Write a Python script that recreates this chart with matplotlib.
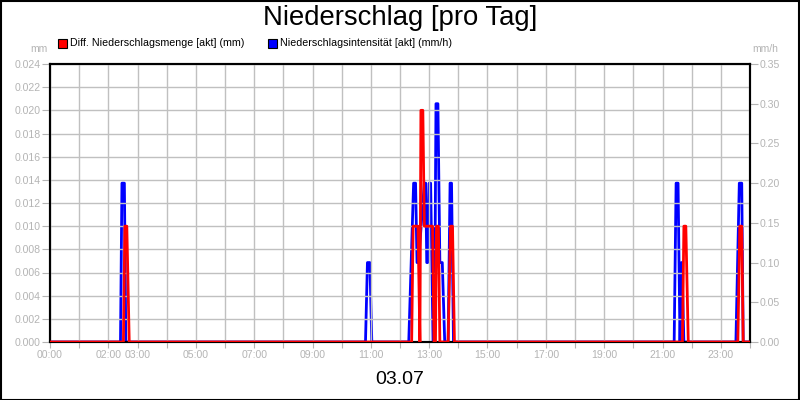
import matplotlib
matplotlib.use("Agg")
import matplotlib.pyplot as plt
from matplotlib.patches import Rectangle

plt.rcParams['font.family'] = ['Liberation Sans', 'DejaVu Sans']

# Niederschlagsintensitaet (mm/h), Stuetzpunkte
blau_zeit = ["00:00", "02:25", "02:28", "02:33", "02:36",
             "10:49", "10:53", "10:58", "11:02",
             "12:18", "12:28", "12:32", "12:35", "12:38", "12:50", "12:53",
             "12:55", "12:57", "13:00", "13:03", "13:08", "13:11", "13:14",
             "13:18", "13:22", "13:27", "13:32", "13:39", "13:43", "13:46", "13:50",
             "21:24", "21:28", "21:32", "21:36", "21:39", "21:40", "21:44",
             "23:31", "23:38", "23:43", "23:46", "24:00"]
blau_wert = [0, 0, 0.20, 0.20, 0,
             0, 0.10, 0.10, 0,
             0, 0.20, 0.20, 0.10, 0.10, 0.20, 0.20,
             0.10, 0.10, 0.20, 0.20, 0, 0, 0.30,
             0.30, 0.10, 0.10, 0, 0, 0.20, 0.20, 0,
             0, 0.20, 0.20, 0, 0.10, 0.10, 0,
             0, 0.20, 0.20, 0, 0]

# Diff. Niederschlagsmenge (mm), Stuetzpunkte
rot_zeit = ["00:00", "02:31", "02:34", "02:38", "02:43",
            "12:24", "12:27", "12:37", "12:41", "12:43", "12:47", "12:50",
            "13:07", "13:10", "13:13", "13:15", "13:19", "13:22",
            "13:39", "13:44", "13:48", "13:52",
            "21:41", "21:44", "21:48", "21:53",
            "23:35", "23:39", "23:43", "23:46", "24:00"]
rot_wert = [0, 0, 0.010, 0.010, 0,
            0, 0.010, 0.010, 0, 0.020, 0.020, 0.010,
            0.010, 0, 0, 0.010, 0.010, 0,
            0, 0.010, 0.010, 0,
            0, 0.010, 0.010, 0,
            0, 0.010, 0.010, 0, 0]

x_labels = ["00:00", "02:00", "03:00", "05:00", "07:00", "09:00", "11:00",
            "13:00", "15:00", "17:00", "19:00", "21:00", "23:00"]


def stunden(t):
    h, m = t.split(":")
    return int(h) + int(m) / 60.0


grau = "#b4b4b4"

fig = plt.figure(figsize=(8, 4), dpi=100)
ax = fig.add_axes([50 / 800, 58 / 400, 700 / 800, 278 / 400])
ax2 = ax.twinx()

ax2.plot([stunden(t) for t in blau_zeit], blau_wert, color="#0000ff", lw=2.0, zorder=2)
ax.plot([stunden(t) for t in rot_zeit], rot_wert, color="#ff0000", lw=2.0, zorder=3)
# rote Linie ueber der blauen
ax.set_zorder(ax2.get_zorder() + 1)
ax.patch.set_visible(False)

ax.set_xlim(0, 24)
ax.set_ylim(0, 0.024)
ax2.set_ylim(0, 0.35)

# stuendliche Ticks, beschriftet nur die Stunden aus x_labels
beschriftet = {int(stunden(t)): t for t in x_labels}
ax.set_xticks(range(0, 25))
ax.set_xticklabels([beschriftet.get(h, "") for h in range(0, 25)])
ax.tick_params(axis="x", length=4, color=grau, pad=2, labelsize=7.6, labelcolor=grau)

ax.set_yticks([i * 0.002 for i in range(13)])
ax.set_yticklabels(["%.3f" % (i * 0.002) for i in range(13)])
ax.tick_params(axis="y", length=6, color=grau, labelsize=7.6, labelcolor=grau, pad=1)
ax2.set_yticks([i * 0.05 for i in range(8)])
ax2.set_yticklabels(["%.2f" % (i * 0.05) for i in range(8)])
ax2.tick_params(axis="y", length=6, color=grau, labelsize=7.6, labelcolor=grau, pad=1)

ax.grid(True, which="major", color="#c0c0c0", lw=1)
for s in ax.spines.values():
    s.set_color("black")
    s.set_linewidth(1.5)
for s in ax2.spines.values():
    s.set_color("black")
    s.set_linewidth(1.5)

fig.text(0.5, 1 - 18 / 400, "Niederschlag [pro Tag]", ha="center", va="center", fontsize=19.8)
fig.text(0.5, 1 - 380 / 400, "03.07", ha="center", va="center", fontsize=14)
fig.text(39 / 800, 1 - 49 / 400, "mm", ha="center", va="center", fontsize=7.5, color=grau)
fig.text(765 / 800, 1 - 49 / 400, "mm/h", ha="center", va="center", fontsize=7.5, color=grau)

# Legende
fig.patches.append(Rectangle((58 / 800, 1 - 48 / 400), 9 / 800, 9 / 400, transform=fig.transFigure,
                             facecolor="#ff0000", edgecolor="black", lw=0.8))
fig.text(70 / 800, 1 - 43.5 / 400, "Diff. Niederschlagsmenge [akt] (mm)", va="center", fontsize=7.7)
fig.patches.append(Rectangle((268 / 800, 1 - 48 / 400), 9 / 800, 9 / 400, transform=fig.transFigure,
                             facecolor="#0000ff", edgecolor="black", lw=0.8))
fig.text(280 / 800, 1 - 43.5 / 400, "Niederschlagsintensität [akt] (mm/h)", va="center", fontsize=7.7)

# Rahmen
fig.patches.append(Rectangle((0.5 / 800, 0.5 / 400), 798.5 / 800, 398.5 / 400, transform=fig.transFigure,
                             facecolor="none", edgecolor="black", lw=1.5))

fig.savefig("out.png", dpi=100)
